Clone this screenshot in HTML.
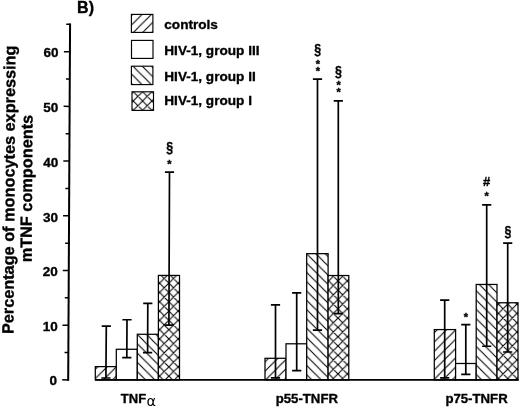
<!DOCTYPE html>
<html lang="en"><head><meta charset="utf-8"><title>mTNF components</title>
<style>html,body{margin:0;padding:0;background:#fff}svg{display:block;will-change:transform}text{font-family:'Liberation Sans', Arial, Helvetica, sans-serif;font-weight:bold;fill:#000;stroke:#000;stroke-width:0.35px;stroke-linejoin:round}</style></head><body>
<svg width="520" height="408" viewBox="0 0 520 408">
<defs>
<pattern id="p1" patternUnits="userSpaceOnUse" width="9.30" height="9.30" x="100.30" y="373.60"><path d="M-1.50,10.80 L10.80,-1.50 M-10.80,10.80 L1.50,-1.50 M7.80,10.80 L20.10,-1.50" stroke="#000" stroke-width="1.10" fill="none"/></pattern>
<pattern id="p2" patternUnits="userSpaceOnUse" width="9.30" height="9.30" x="137.29" y="343.72"><path d="M-1.50,-1.50 L10.80,10.80 M-10.80,-1.50 L1.50,10.80 M7.80,-1.50 L20.10,10.80" stroke="#000" stroke-width="1.10" fill="none"/></pattern>
<pattern id="p3" patternUnits="userSpaceOnUse" width="9.30" height="9.30" x="168.87" y="283.15"><path d="M-1.50,-1.50 L10.80,10.80 M-10.80,-1.50 L1.50,10.80 M7.80,-1.50 L20.10,10.80 M-1.50,10.80 L10.80,-1.50 M-10.80,10.80 L1.50,-1.50 M7.80,10.80 L20.10,-1.50" stroke="#000" stroke-width="1.10" fill="none"/></pattern>
<pattern id="p4" patternUnits="userSpaceOnUse" width="9.30" height="9.30" x="275.58" y="369.90"><path d="M-1.50,10.80 L10.80,-1.50 M-10.80,10.80 L1.50,-1.50 M7.80,10.80 L20.10,-1.50" stroke="#000" stroke-width="1.10" fill="none"/></pattern>
<pattern id="p5" patternUnits="userSpaceOnUse" width="9.30" height="9.30" x="306.43" y="262.86"><path d="M-1.50,-1.50 L10.80,10.80 M-10.80,-1.50 L1.50,10.80 M7.80,-1.50 L20.10,10.80" stroke="#000" stroke-width="1.10" fill="none"/></pattern>
<pattern id="p6" patternUnits="userSpaceOnUse" width="9.30" height="9.30" x="338.00" y="336.70"><path d="M-1.50,-1.50 L10.80,10.80 M-10.80,-1.50 L1.50,10.80 M7.80,-1.50 L20.10,10.80 M-1.50,10.80 L10.80,-1.50 M-10.80,10.80 L1.50,-1.50 M7.80,10.80 L20.10,-1.50" stroke="#000" stroke-width="1.10" fill="none"/></pattern>
<pattern id="p7" patternUnits="userSpaceOnUse" width="9.30" height="9.30" x="439.58" y="346.00"><path d="M-1.50,10.80 L10.80,-1.50 M-10.80,10.80 L1.50,-1.50 M7.80,10.80 L20.10,-1.50" stroke="#000" stroke-width="1.10" fill="none"/></pattern>
<pattern id="p8" patternUnits="userSpaceOnUse" width="9.30" height="9.30" x="486.67" y="301.14"><path d="M-1.50,-1.50 L10.80,10.80 M-10.80,-1.50 L1.50,10.80 M7.80,-1.50 L20.10,10.80" stroke="#000" stroke-width="1.10" fill="none"/></pattern>
<pattern id="p9" patternUnits="userSpaceOnUse" width="9.30" height="9.30" x="507.73" y="332.00"><path d="M-1.50,-1.50 L10.80,10.80 M-10.80,-1.50 L1.50,10.80 M7.80,-1.50 L20.10,10.80 M-1.50,10.80 L10.80,-1.50 M-10.80,10.80 L1.50,-1.50 M7.80,10.80 L20.10,-1.50" stroke="#000" stroke-width="1.10" fill="none"/></pattern>
<pattern id="p10" patternUnits="userSpaceOnUse" width="9.30" height="9.30" x="142.37" y="23.44"><path d="M-1.50,10.80 L10.80,-1.50 M-10.80,10.80 L1.50,-1.50 M7.80,10.80 L20.10,-1.50" stroke="#000" stroke-width="1.10" fill="none"/></pattern>
<pattern id="p11" patternUnits="userSpaceOnUse" width="9.30" height="9.30" x="142.15" y="75.40"><path d="M-1.50,-1.50 L10.80,10.80 M-10.80,-1.50 L1.50,10.80 M7.80,-1.50 L20.10,10.80" stroke="#000" stroke-width="1.10" fill="none"/></pattern>
<pattern id="p12" patternUnits="userSpaceOnUse" width="9.30" height="9.30" x="142.58" y="101.00"><path d="M-1.50,-1.50 L10.80,10.80 M-10.80,-1.50 L1.50,10.80 M7.80,-1.50 L20.10,10.80 M-1.50,10.80 L10.80,-1.50 M-10.80,10.80 L1.50,-1.50 M7.80,10.80 L20.10,-1.50" stroke="#000" stroke-width="1.10" fill="none"/></pattern>
</defs>
<rect width="520" height="408" fill="#fff"/>
<rect x="95.30" y="366.61" width="21.00" height="13.29" fill="#fff"/>
<rect x="95.30" y="366.61" width="21.00" height="13.29" fill="url(#p1)" stroke="#000" stroke-width="1.25"/>
<rect x="116.30" y="349.27" width="21.00" height="30.63" fill="#fff" stroke="#000" stroke-width="1.25"/>
<rect x="137.30" y="334.28" width="21.10" height="45.62" fill="#fff"/>
<rect x="137.30" y="334.28" width="21.10" height="45.62" fill="url(#p2)" stroke="#000" stroke-width="1.25"/>
<rect x="158.40" y="275.42" width="21.10" height="104.48" fill="#fff"/>
<rect x="158.40" y="275.42" width="21.10" height="104.48" fill="url(#p3)" stroke="#000" stroke-width="1.25"/>
<path d="M106.30,326.13 L105.90,377.99 M101.70,326.13 H110.90 M101.30,377.99 H110.50" stroke="#000" stroke-width="1.7" fill="none"/>
<path d="M127.00,319.73 L126.80,357.64 M122.40,319.73 H131.60 M122.20,357.64 H131.40" stroke="#000" stroke-width="1.7" fill="none"/>
<path d="M147.80,303.32 L147.60,352.55 M143.20,303.32 H152.40 M143.00,352.55 H152.20" stroke="#000" stroke-width="1.7" fill="none"/>
<path d="M169.50,172.04 L168.90,325.20 M164.90,172.04 H174.10 M164.30,325.20 H173.50" stroke="#000" stroke-width="1.7" fill="none"/>
<rect x="265.00" y="358.29" width="21.00" height="21.61" fill="#fff"/>
<rect x="265.00" y="358.29" width="21.00" height="21.61" fill="url(#p4)" stroke="#000" stroke-width="1.25"/>
<rect x="286.00" y="343.80" width="20.70" height="36.10" fill="#fff" stroke="#000" stroke-width="1.25"/>
<rect x="306.70" y="253.65" width="21.40" height="126.25" fill="#fff"/>
<rect x="306.70" y="253.65" width="21.40" height="126.25" fill="url(#p5)" stroke="#000" stroke-width="1.25"/>
<rect x="328.10" y="275.53" width="20.70" height="104.37" fill="#fff"/>
<rect x="328.10" y="275.53" width="20.70" height="104.37" fill="url(#p6)" stroke="#000" stroke-width="1.25"/>
<path d="M275.50,304.96 L275.50,377.88 M270.90,304.96 H280.10 M270.90,377.88 H280.10" stroke="#000" stroke-width="1.7" fill="none"/>
<path d="M296.70,292.93 L296.70,370.60 M292.10,292.93 H301.30 M292.10,370.60 H301.30" stroke="#000" stroke-width="1.7" fill="none"/>
<path d="M317.50,79.05 L317.50,330.12 M312.90,79.05 H322.10 M312.90,330.12 H322.10" stroke="#000" stroke-width="1.7" fill="none"/>
<path d="M338.30,100.93 L338.30,313.71 M333.70,100.93 H342.90 M333.70,313.71 H342.90" stroke="#000" stroke-width="1.7" fill="none"/>
<rect x="434.30" y="329.58" width="21.30" height="50.32" fill="#fff"/>
<rect x="434.30" y="329.58" width="21.30" height="50.32" fill="url(#p7)" stroke="#000" stroke-width="1.25"/>
<rect x="455.60" y="363.49" width="20.60" height="16.41" fill="#fff" stroke="#000" stroke-width="1.25"/>
<rect x="476.20" y="284.45" width="20.80" height="95.45" fill="#fff"/>
<rect x="476.20" y="284.45" width="20.80" height="95.45" fill="url(#p8)" stroke="#000" stroke-width="1.25"/>
<rect x="497.00" y="302.77" width="21.00" height="77.13" fill="#fff"/>
<rect x="497.00" y="302.77" width="21.00" height="77.13" fill="url(#p9)" stroke="#000" stroke-width="1.25"/>
<path d="M444.70,300.04 L444.70,377.88 M440.10,300.04 H449.30 M440.10,377.88 H449.30" stroke="#000" stroke-width="1.7" fill="none"/>
<path d="M465.80,324.65 L465.80,374.43 M461.20,324.65 H470.40 M461.20,374.43 H470.40" stroke="#000" stroke-width="1.7" fill="none"/>
<path d="M486.70,204.86 L486.70,346.26 M482.10,204.86 H491.30 M482.10,346.26 H491.30" stroke="#000" stroke-width="1.7" fill="none"/>
<path d="M507.70,243.15 L507.70,352.00 M503.10,243.15 H512.30 M503.10,352.00 H512.30" stroke="#000" stroke-width="1.7" fill="none"/>
<path d="M95,379.9 H518.6" stroke="#000" stroke-width="1.9" fill="none"/>
<g transform="rotate(0.3 68.2 380)">
<path d="M68.2,23.5 V380.8" stroke="#000" stroke-width="2.0" fill="none"/>
<path d="M62.2,379.90 H68.5" stroke="#000" stroke-width="1.5"/>
<path d="M64.4,352.55 H68.5" stroke="#000" stroke-width="1.5"/>
<path d="M62.2,325.20 H68.5" stroke="#000" stroke-width="1.5"/>
<path d="M64.4,297.85 H68.5" stroke="#000" stroke-width="1.5"/>
<path d="M62.2,270.50 H68.5" stroke="#000" stroke-width="1.5"/>
<path d="M64.4,243.15 H68.5" stroke="#000" stroke-width="1.5"/>
<path d="M62.2,215.80 H68.5" stroke="#000" stroke-width="1.5"/>
<path d="M64.4,188.45 H68.5" stroke="#000" stroke-width="1.5"/>
<path d="M62.2,161.10 H68.5" stroke="#000" stroke-width="1.5"/>
<path d="M64.4,133.75 H68.5" stroke="#000" stroke-width="1.5"/>
<path d="M62.2,106.40 H68.5" stroke="#000" stroke-width="1.5"/>
<path d="M64.4,79.05 H68.5" stroke="#000" stroke-width="1.5"/>
<path d="M62.2,51.70 H68.5" stroke="#000" stroke-width="1.5"/>
<path d="M64.4,24.35 H68.5" stroke="#000" stroke-width="1.5"/>
</g>
<text x="57.10" y="385.10" font-size="13.5" text-anchor="end">0</text>
<text x="57.66" y="330.95" font-size="13.5" text-anchor="end">10</text>
<text x="57.83" y="276.25" font-size="13.5" text-anchor="end">20</text>
<text x="57.99" y="221.55" font-size="13.5" text-anchor="end">30</text>
<text x="58.16" y="166.85" font-size="13.5" text-anchor="end">40</text>
<text x="58.32" y="112.15" font-size="13.5" text-anchor="end">50</text>
<text x="58.48" y="57.45" font-size="13.5" text-anchor="end">60</text>
<text transform="translate(14.45,189.8) rotate(-89.6)" font-size="16.3" text-anchor="middle">Percentage of monocytes expressing</text>
<text transform="translate(32.1,188.6) rotate(-89.65)" font-size="16.3" text-anchor="middle">mTNF components</text>
<text x="77.1" y="13.0" font-size="16">B)</text>
<rect x="131.40" y="14.40" width="21.50" height="18.00" fill="#fff"/>
<rect x="131.40" y="14.40" width="21.50" height="18.00" fill="url(#p10)" stroke="#000" stroke-width="1.15"/>
<text x="164.3" y="29.2" font-size="13.6">controls</text>
<rect x="131.50" y="40.40" width="21.50" height="18.00" fill="#fff" stroke="#000" stroke-width="1.15"/>
<text x="164.3" y="55.1" font-size="13.6">HIV-1, group III</text>
<rect x="131.40" y="66.20" width="21.50" height="18.40" fill="#fff"/>
<rect x="131.40" y="66.20" width="21.50" height="18.40" fill="url(#p11)" stroke="#000" stroke-width="1.15"/>
<text x="164.3" y="80.8" font-size="13.6">HIV-1, group II</text>
<rect x="132.00" y="91.80" width="21.50" height="18.60" fill="#fff"/>
<rect x="132.00" y="91.80" width="21.50" height="18.60" fill="url(#p12)" stroke="#000" stroke-width="1.15"/>
<text x="164.3" y="105.4" font-size="13.6">HIV-1, group I</text>
<text x="120.8" y="403.0" font-size="13.0">TNF<tspan font-family="'DejaVu Sans', sans-serif" font-weight="normal" stroke="none" font-size="14.5" dx="0.3" dy="2.6">&#945;</tspan></text>
<text x="275.7" y="403.2" font-size="13.2">p55-TNFR</text>
<text x="445.4" y="403.3" font-size="13.2">p75-TNFR</text>
<text transform="translate(169.60,151.80) scale(0.86,1)" font-size="14.4" text-anchor="middle">&#167;</text>
<text x="169.3" y="167.9" font-size="11" text-anchor="middle">*</text>
<text transform="translate(317.75,54.10) scale(0.86,1)" font-size="14.4" text-anchor="middle">&#167;</text>
<text x="318.0" y="67.6" font-size="11" text-anchor="middle">*</text>
<text x="318.0" y="75.0" font-size="11" text-anchor="middle">*</text>
<text transform="translate(338.45,75.60) scale(0.86,1)" font-size="14.4" text-anchor="middle">&#167;</text>
<text x="338.6" y="88.6" font-size="11" text-anchor="middle">*</text>
<text x="338.6" y="95.5" font-size="11" text-anchor="middle">*</text>
<text x="465.8" y="321.3" font-size="11" text-anchor="middle">*</text>
<text x="486.7" y="185.8" font-size="13" text-anchor="middle">#</text>
<text x="486.7" y="199.5" font-size="11" text-anchor="middle">*</text>
<text transform="translate(507.90,236.10) scale(0.86,1)" font-size="14.4" text-anchor="middle">&#167;</text>
</svg></body></html>
